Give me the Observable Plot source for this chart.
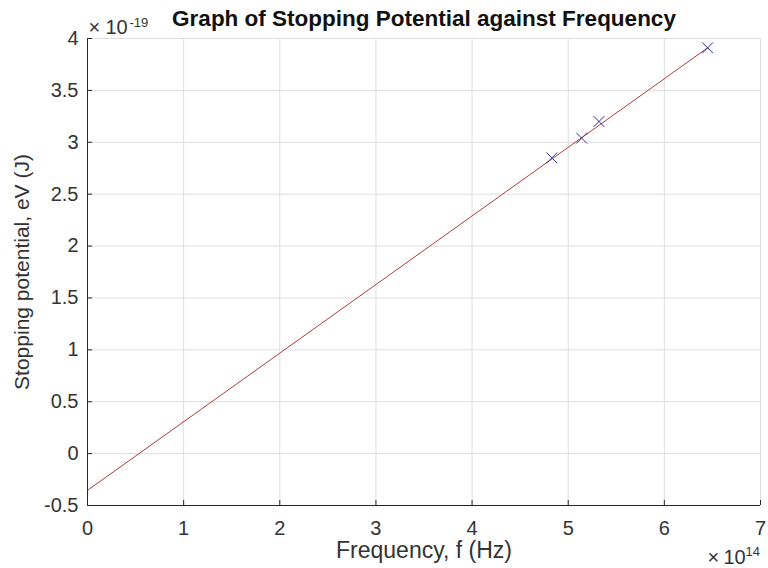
<!DOCTYPE html>
<html>
<head>
<meta charset="utf-8">
<script src="https://cdn.jsdelivr.net/npm/d3@7"></script>
<script src="https://cdn.jsdelivr.net/npm/@observablehq/plot@0.6"></script>
<style>
  html, body { margin: 0; padding: 0; background: #fff; }
  svg { font-family: "Liberation Sans", Arial, sans-serif; }
</style>
</head>
<body>
<div id="chart"></div>
<script>
// Measured points (frequency ×10^14 Hz, energy ×10^-19 J)
const frequency = [4.83, 5.14, 5.32, 6.45];
const stoppingEnergy = [2.85, 3.04, 3.20, 3.91];
// Fitted line endpoints
const fitFrequency = [0, 6.45];
const fitEnergy = [-0.354, 3.91];
// Ticks
const xTicks = [0, 1, 2, 3, 4, 5, 6, 7];
const yTicks = [-0.5, 0, 0.5, 1, 1.5, 2, 2.5, 3, 3.5, 4];

const points = frequency.map((f, i) => ({f, e: stoppingEnergy[i]}));
const fit = fitFrequency.map((f, i) => ({f, e: fitEnergy[i]}));

const W = 768, H = 568;
const mL = 87, mR = 8, mT = 38, mB = 63;
const innerH = H - mT - mB;
const innerW = W - mL - mR;
const axisColor = "#262626";
const textColor = "#333333";
const gridColor = "#dedede";
const tickFont = 20;
const supFont = 13;

const chart = Plot.plot({
  width: W,
  height: H,
  marginLeft: mL,
  marginRight: mR,
  marginTop: mT,
  marginBottom: mB,
  style: {fontFamily: "'Liberation Sans', Arial, sans-serif", color: textColor, background: "#fff"},
  x: {domain: [0, 7]},
  y: {domain: [-0.5, 4]},
  marks: [
    Plot.gridX(xTicks, {stroke: gridColor, strokeOpacity: 1}),
    Plot.gridY(yTicks, {stroke: gridColor, strokeOpacity: 1}),
    // inward ticks
    Plot.ruleX(xTicks, {x: d => d, stroke: axisColor, insetTop: innerH - 5}),
    Plot.ruleY(yTicks, {y: d => d, stroke: axisColor, insetRight: innerW - 5}),
    Plot.axisX(xTicks, {tickSize: 0, tickPadding: 15, fontSize: tickFont, fill: textColor, tickFormat: d => String(d), label: null}),
    Plot.axisY(yTicks, {tickSize: 0, tickPadding: 9, fontSize: tickFont, fill: textColor, tickFormat: d => String(d), label: null}),
    Plot.ruleX([0], {stroke: axisColor}),
    Plot.ruleY([-0.5], {stroke: axisColor}),
    Plot.line(fit, {x: "f", y: "e", stroke: "#b23b3b", strokeWidth: 1}),
    Plot.dot(points, {x: "f", y: "e", symbol: "times", r: 5, stroke: "#2e2e9e", strokeWidth: 1}),
    // axis labels
    Plot.text(["Frequency, f (Hz)"], {frameAnchor: "bottom", dy: 45, textAnchor: "middle", lineAnchor: "middle", fontSize: 23, fill: textColor}),
    Plot.text(["Stopping potential, eV (J)"], {frameAnchor: "left", dx: -65, rotate: -90, textAnchor: "middle", lineAnchor: "middle", fontSize: 21, fill: textColor}),
    // exponent labels (top-left, y axis)
    Plot.text(["×"], {frameAnchor: "top-left", dx: 1, dy: -5, textAnchor: "start", lineAnchor: "bottom", fontSize: tickFont, fill: textColor}),
    Plot.text(["10"], {frameAnchor: "top-left", dx: 18, dy: -5, textAnchor: "start", lineAnchor: "bottom", fontSize: tickFont, fill: textColor}),
    Plot.text(["-19"], {frameAnchor: "top-left", dx: 42, dy: -12, textAnchor: "start", lineAnchor: "bottom", fontSize: supFont, fill: textColor}),
    // exponent labels (bottom-right, x axis)
    Plot.text(["×"], {frameAnchor: "bottom-right", dx: -53, dy: 58, textAnchor: "start", lineAnchor: "bottom", fontSize: tickFont, fill: textColor}),
    Plot.text(["10"], {frameAnchor: "bottom-right", dx: -37, dy: 58, textAnchor: "start", lineAnchor: "bottom", fontSize: tickFont, fill: textColor}),
    Plot.text(["14"], {frameAnchor: "bottom-right", dx: -15, dy: 50, textAnchor: "start", lineAnchor: "bottom", fontSize: supFont, fill: textColor}),
    // title
    Plot.text(["Graph of Stopping Potential against Frequency"], {frameAnchor: "top", dy: -20, lineAnchor: "middle", fontSize: 22.5, fontWeight: "bold", fill: "#111"})
  ]
});
document.getElementById("chart").appendChild(chart);
</script>
</body>
</html>
